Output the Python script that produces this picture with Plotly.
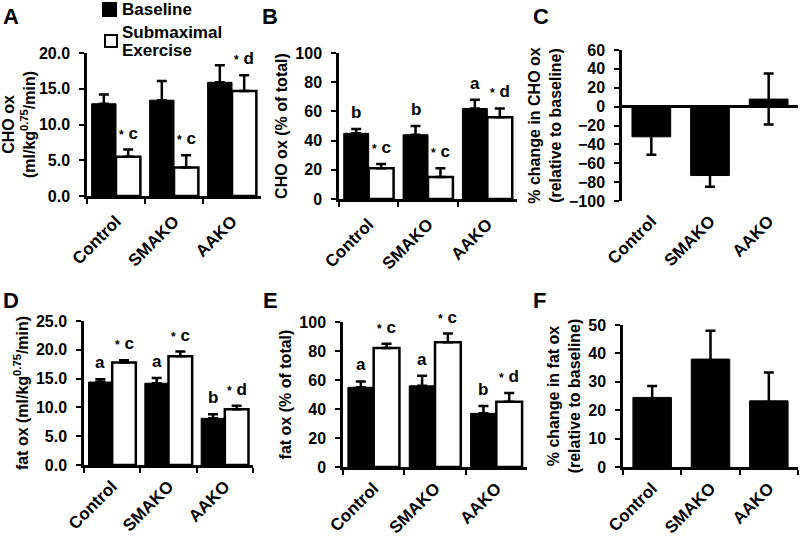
import plotly.graph_objects as go

categories = ["Control", "SMAKO", "AAKO"]
series_names = ["Baseline", "Submaximal Exercise"]

# Panel A: CHO ox (ml/kg^0.75/min)
a_base = [12.9, 13.4, 15.9]
a_base_err = [1.3, 2.7, 2.4]
a_ex = [5.5, 4.0, 14.7]
a_ex_err = [1.0, 1.7, 2.2]
a_base_lbl = ["", "", ""]
a_ex_lbl = ["* c", "* c", "* d"]

# Panel B: CHO ox (% of total)
b_base = [45, 44, 62]
b_base_err = [3, 6, 6]
b_ex = [21, 15, 56]
b_ex_err = [3, 6, 6]
b_base_lbl = ["b", "b", "a"]
b_ex_lbl = ["* c", "* c", "* d"]

# Panel C: % change in CHO ox
c_val = [-32, -73, 8]
c_err = [19, 12, 27]

# Panel D: fat ox (ml/kg^0.75/min)
d_base = [14.4, 14.2, 8.1]
d_base_err = [0.5, 0.9, 0.7]
d_ex = [17.8, 18.9, 9.7]
d_ex_err = [0.4, 0.8, 0.6]
d_base_lbl = ["a", "a", "b"]
d_ex_lbl = ["* c", "* c", "* d"]

# Panel E: fat ox (% of total)
e_base = [55, 56, 37]
e_base_err = [4, 7, 5]
e_ex = [82, 86, 45]
e_ex_err = [3, 6, 6]
e_base_lbl = ["a", "a", "b"]
e_ex_lbl = ["* c", "* c", "* d"]

# Panel F: % change in fat ox
f_val = [24.5, 38, 23.3]
f_err = [4, 10, 10]

FONT = "Liberation Sans, Arial, sans-serif"
W, H = 800, 537

def px_x(p):
    return p / W

def px_y(p):
    return 1 - p / H

fig = go.Figure()

# panel plot areas in pixels: (x0, x1, ytop, ybottom)
panels = {
    1: (87, 261, 53, 196),
    2: (339, 517, 53, 199),
    3: (622, 798, 50, 201),
    4: (84, 253, 321, 465),
    5: (343, 527, 322, 467),
    6: (623, 798, 325, 467),
}

yinfo = {
    1: dict(range=[0, 20], dtick=5, tickformat=".1f", title="CHO ox<br>(ml/kg<sup>0.75</sup>/min)"),
    2: dict(range=[0, 100], dtick=20, tickformat="d", title="CHO ox (% of total)"),
    3: dict(range=[-100, 60], dtick=20, tickformat="d", title="% change in CHO ox<br>(relative to baseline)"),
    4: dict(range=[0, 25], dtick=5, tickformat=".1f", title="fat ox (ml/kg<sup>0.75</sup>/min)"),
    5: dict(range=[0, 100], dtick=20, tickformat="d", title="fat ox (% of total)"),
    6: dict(range=[0, 50], dtick=10, tickformat="d", title="% change in fat ox<br>(relative to baseline)"),
}

tickfont = dict(family=FONT, size=16, color="black", weight="bold")
xtickfont = dict(family=FONT, size=17, color="black", weight="bold")

layout = {}
for i, (x0, x1, yt, yb) in panels.items():
    xs = "" if i == 1 else str(i)
    xa = dict(
        domain=[px_x(x0), px_x(x1)],
        anchor="y" + xs,
        type="category",
        range=[-0.5, 2.5],
        showline=(i != 3),
        linecolor="black",
        linewidth=2.5,
        ticks="outside" if i != 3 else "",
        tickson="boundaries",
        ticklen=5,
        tickwidth=2,
        tickcolor="black",
        tickangle=-45,
        tickfont=xtickfont,
        ticklabelstandoff=6 if i <= 3 else 2,
        showgrid=False,
        zeroline=False,
        fixedrange=True,
        automargin=False,
    )
    yi = yinfo[i]
    ya = dict(
        domain=[px_y(yb), px_y(yt)],
        anchor="x" + xs,
        range=yi["range"],
        dtick=yi["dtick"],
        tickformat=yi["tickformat"],
        showline=True,
        linecolor="black",
        linewidth=2.5,
        ticks="outside",
        ticklen=5,
        tickwidth=2,
        tickcolor="black",
        tickfont=tickfont,
        ticklabelstandoff=6,
        showgrid=False,
        zeroline=(i == 3),
        zerolinecolor="black",
        zerolinewidth=2.5,
        title=dict(text=yi["title"], font=dict(family=FONT, size=16, color="black", weight="bold"), standoff=4),
        fixedrange=True,
        automargin=False,
    )
    layout["xaxis" + xs] = xa
    layout["yaxis" + xs] = ya

BW = 0.42
err_style = dict(type="data", color="black", thickness=2.5, width=5)

def add_pair(i, base, base_err, ex, ex_err):
    xs = "" if i == 1 else str(i)
    fig.add_trace(go.Bar(
        x=categories, y=base, name=series_names[0], showlegend=False,
        offset=-BW, width=BW,
        marker=dict(color="black", line=dict(color="black", width=1)),
        error_y=dict(array=base_err, arrayminus=[0] * 3, symmetric=False, **err_style),
        xaxis="x" + xs, yaxis="y" + xs,
    ))
    fig.add_trace(go.Bar(
        x=categories, y=ex, name=series_names[1], showlegend=False,
        offset=0, width=BW,
        marker=dict(color="white", line=dict(color="black", width=2.5)),
        error_y=dict(array=ex_err, arrayminus=[0] * 3, symmetric=False, **err_style),
        xaxis="x" + xs, yaxis="y" + xs,
    ))

def add_single(i, vals, errs):
    xs = str(i)
    fig.add_trace(go.Bar(
        x=categories, y=vals, showlegend=False,
        offset=-0.33, width=0.66,
        marker=dict(color="black", line=dict(color="black", width=1)),
        error_y=dict(array=errs, symmetric=True, **err_style),
        xaxis="x" + xs, yaxis="y" + xs,
    ))

add_pair(1, a_base, a_base_err, a_ex, a_ex_err)
add_pair(2, b_base, b_base_err, b_ex, b_ex_err)
add_single(3, c_val, c_err)
add_pair(4, d_base, d_base_err, d_ex, d_ex_err)
add_pair(5, e_base, e_base_err, e_ex, e_ex_err)
add_single(6, f_val, f_err)

annotations = []

def fmt(lbl):
    if lbl.startswith("*"):
        return "<span style='font-size:12px'>*</span> " + lbl[2:]
    return lbl

def add_labels(i, base, base_err, ex, ex_err, bl, el):
    xs = "" if i == 1 else str(i)
    for k in range(3):
        for v, e, lbl, off in ((base[k], base_err[k], bl[k], -BW / 2), (ex[k], ex_err[k], el[k], BW / 2)):
            if not lbl:
                continue
            annotations.append(dict(
                x=k + off, y=v + e, xref="x" + xs, yref="y" + xs,
                text=fmt(lbl), showarrow=False, yanchor="bottom", yshift=5,
                font=dict(family=FONT, size=17, color="black", weight="bold"),
            ))

add_labels(1, a_base, a_base_err, a_ex, a_ex_err, a_base_lbl, a_ex_lbl)
add_labels(2, b_base, b_base_err, b_ex, b_ex_err, b_base_lbl, b_ex_lbl)
add_labels(4, d_base, d_base_err, d_ex, d_ex_err, d_base_lbl, d_ex_lbl)
add_labels(5, e_base, e_base_err, e_ex, e_ex_err, e_base_lbl, e_ex_lbl)

panel_letters = [("A", 1, 2), ("B", 260, 2), ("C", 531, 2), ("D", 1, 286), ("E", 261, 286), ("F", 531, 286)]
for t, px, py in panel_letters:
    annotations.append(dict(
        x=px_x(px), y=px_y(py), xref="paper", yref="paper", xanchor="left", yanchor="top",
        text=t, showarrow=False, font=dict(family=FONT, size=22, color="black", weight="bold"),
    ))

# legend (drawn as swatches + text, placed above panel A like the original)
legend_font = dict(family=FONT, size=17, color="black", weight="bold")
legend_items = [
    (series_names[0], "black", 103, 3, 116, 16, [("Baseline", 9)]),
    (series_names[1], "white", 105, 35, 117, 47, [("Submaximal", 32), ("Exercise", 50)]),
]
shapes = []
for name, color, sx0, sy0, sx1, sy1, lines in legend_items:
    shapes.append(dict(
        type="rect", xref="paper", yref="paper",
        x0=px_x(sx0), x1=px_x(sx1), y0=px_y(sy1), y1=px_y(sy0),
        fillcolor=color, line=dict(color="black", width=2),
    ))
    for txt, cy in lines:
        annotations.append(dict(
            x=px_x(120), y=px_y(cy), xref="paper", yref="paper", xanchor="left", yanchor="middle",
            text=txt, showarrow=False, font=legend_font,
        ))

fig.update_layout(
    width=W, height=H,
    margin=dict(l=0, r=0, t=0, b=0),
    paper_bgcolor="white", plot_bgcolor="white",
    barmode="overlay",
    showlegend=False,
    annotations=annotations,
    shapes=shapes,
    **layout,
)

fig.write_html(
    "out.html",
    config={"displayModeBar": False},
    post_script="document.body.style.margin='0';",
)
